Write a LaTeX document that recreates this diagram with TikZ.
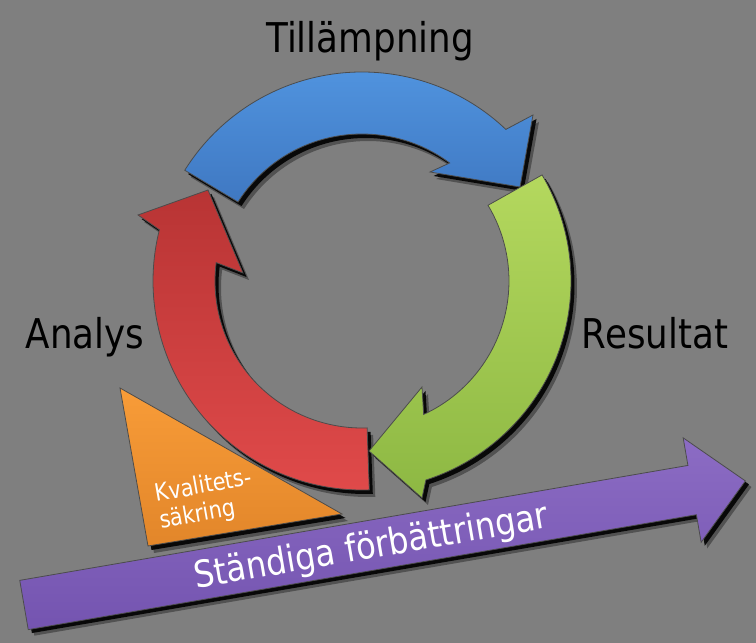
\documentclass[tikz,border=0pt]{standalone}
\usepackage{fontspec}
\setmainfont{DejaVu Sans}[FakeStretch=0.87]
\usetikzlibrary{calc}
\definecolor{bggray}{HTML}{7F7F7F}
\definecolor{blueA}{HTML}{5093DE}
\definecolor{blueB}{HTML}{3F78C2}
\definecolor{greenA}{HTML}{B4D85E}
\definecolor{greenB}{HTML}{8DB843}
\definecolor{redA}{HTML}{B83434}
\definecolor{redB}{HTML}{E04A4A}
\definecolor{orangeA}{HTML}{F89C38}
\definecolor{orangeB}{HTML}{E2862A}
\definecolor{purpleA}{HTML}{8C6CC4}
\definecolor{purpleB}{HTML}{7454B0}
\newcommand\myBluePath{(148:209) arc[start angle=148, end angle=46.5, radius=209] -- (171,166) -- (158,94) -- (68,109) -- (53.4:147) arc[start angle=53.4, end angle=147.5, radius=147] -- cycle}
\newcommand\myGreenPath{(30.5:209) arc[start angle=30.5, end angle=-72.2, radius=209] -- (60,-217) -- (7,-170) -- (60,-106) -- (-65.2:147) arc[start angle=-65.2, end angle=31, radius=147] -- cycle}
\newcommand\myRedPath{(-88:209) arc[start angle=-88, end angle=-194.2, radius=209] -- (-224,66) -- (-154,91) -- (-119,8) -- (-187.2:147) arc[start angle=-187.2, end angle=-88, radius=147] -- cycle}
\newcommand\myTriPath{(120,255) -- (148,97) -- (342,129) -- cycle}
\newcommand\myPurplePath{(0,-25) -- (678,-25) -- (678,-53) -- (732,0) -- (678,53) -- (678,25) -- (0,25) -- cycle}
\tikzset{
  shadowfill/.style={fill=black, opacity=0.9},
  softshadow/.style={fill=black, opacity=0.35},
  rim/.style={draw=black!70, line width=0.8pt},
  lbl/.style={font=\fontsize{41}{45}\selectfont, text=black, inner sep=0pt},
}
\begin{document}
\begin{tikzpicture}[x=1pt,y=1pt]
\useasboundingbox (0,0) rectangle (756,643);
\fill[bggray] (0,0) rectangle (756,643);
% ring arrows
\begin{scope}[shift={(362,362)}]
  \foreach \p in {\myBluePath,\myGreenPath,\myRedPath}{
    \fill[softshadow, shift={(6,-7)}] \p;
    \fill[shadowfill, shift={(3.5,-4)}] \p;
  }
  \path[rim, top color=blueA, bottom color=blueB] \myBluePath;
  \path[rim, top color=greenA, bottom color=greenB] \myGreenPath;
  \path[rim, top color=redA, bottom color=redB] \myRedPath;
\end{scope}
% triangle
\fill[softshadow, shift={(6,-7)}] \myTriPath;
\fill[shadowfill, shift={(3.5,-4)}] \myTriPath;
\path[rim, top color=orangeA, bottom color=orangeB] \myTriPath;
\node[align=left, rotate=10, text=white, font=\fontsize{24}{27}\selectfont, inner sep=0pt] (kval) at (206,143) {Kvalitets-\\säkring};
% purple arrow
\begin{scope}[shift={(24,38)}, rotate=9.76]
  \fill[softshadow, shift={(5,-7)}] \myPurplePath;
  \fill[shadowfill, shift={(3,-4)}] \myPurplePath;
  \path[rim, top color=purpleA, bottom color=purpleB] \myPurplePath;
  \node[anchor=base, rotate=9.76, text=white, font=\fontsize{37}{40}\selectfont, inner sep=0pt] (stand) at (352,-13) {Ständiga förbättringar};
\end{scope}
% labels
\node[lbl, anchor=base] (till) at (370,590) {Tillämpning};
\node[lbl, anchor=base] (analys) at (85,294) {Analys};
\node[lbl, anchor=base] (res) at (655,294) {Resultat};
\end{tikzpicture}
\end{document}
